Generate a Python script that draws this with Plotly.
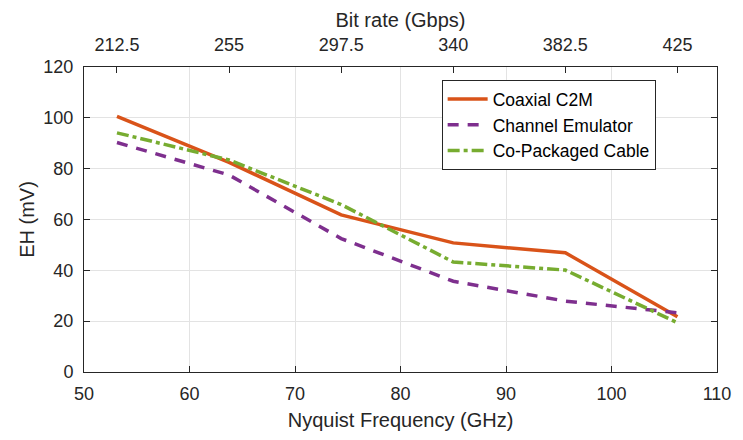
import plotly.graph_objects as go

nyquist_ghz = [53.125, 63.75, 74.375, 85, 95.625, 106.25]
coaxial_c2m = [100.6, 82.5, 61.8, 50.8, 46.9, 21.7]
channel_emulator = [90.3, 77.5, 52.5, 35.7, 27.9, 23.3]
co_packaged_cable = [94.1, 83.4, 65.9, 43.3, 40.1, 19.4]
bit_rate_labels = ["212.5", "255", "297.5", "340", "382.5", "425"]

FONT = "Liberation Sans, Arial, sans-serif"
AX = "#262626"
GRID = "#e3e3e3"

fig = go.Figure()
fig.add_trace(go.Scatter(x=nyquist_ghz, y=coaxial_c2m, mode="lines", name="Coaxial C2M",
                         line=dict(color="#D95319", width=3.5)))
fig.add_trace(go.Scatter(x=nyquist_ghz, y=channel_emulator, mode="lines", name="Channel Emulator",
                         line=dict(color="#7E2F8E", width=3.5, dash="11px,9px")))
fig.add_trace(go.Scatter(x=nyquist_ghz, y=co_packaged_cable, mode="lines", name="Co-Packaged Cable",
                         line=dict(color="#77AC30", width=3.5, dash="12px,4px,4px,4px")))
# invisible trace to activate top axis
fig.add_trace(go.Scatter(x=nyquist_ghz, y=coaxial_c2m, xaxis="x2", mode="lines",
                         line=dict(width=0), showlegend=False, hoverinfo="skip", opacity=0))

fig.update_layout(
    width=743, height=440,
    margin=dict(l=84, r=15, t=67, b=64),
    paper_bgcolor="white", plot_bgcolor="white",
    font=dict(family=FONT, size=18, color=AX),
    xaxis=dict(range=[50, 110], dtick=10, tick0=50, ticks="inside", ticklen=6, tickcolor=AX,
               showline=True, linecolor=AX, linewidth=1, mirror=False,
               showgrid=True, gridcolor=GRID, gridwidth=1, zeroline=False,
               ticklabelstandoff=5,
               title=dict(text="Nyquist Frequency (GHz)", font=dict(size=20), standoff=10),
               tickfont=dict(size=18)),
    xaxis2=dict(range=[50, 110], overlaying="x", side="top", tickmode="array",
                tickvals=nyquist_ghz, ticktext=bit_rate_labels, ticks="inside", ticklen=6,
                tickcolor=AX, showline=True, linecolor=AX, linewidth=1, showgrid=False,
                zeroline=False, ticklabelstandoff=8,
                title=dict(text="Bit rate (Gbps)", font=dict(size=20), standoff=1),
                tickfont=dict(size=18)),
    yaxis=dict(range=[0, 120], dtick=20, ticks="inside", ticklen=6, tickcolor=AX,
               showline=True, linecolor=AX, linewidth=1, mirror="ticks",
               showgrid=True, gridcolor=GRID, gridwidth=1, zeroline=False,
               ticklabelstandoff=6,
               title=dict(text="EH (mV)", font=dict(size=20), standoff=3),
               tickfont=dict(size=18)),
    legend=dict(x=0.565, y=0.957, xanchor="left", yanchor="top",
                bgcolor="white", bordercolor=AX, borderwidth=1,
                font=dict(size=17.5, color="black"), tracegroupgap=0, itemwidth=40),
    showlegend=True,
)

fig.write_html("out.html")
